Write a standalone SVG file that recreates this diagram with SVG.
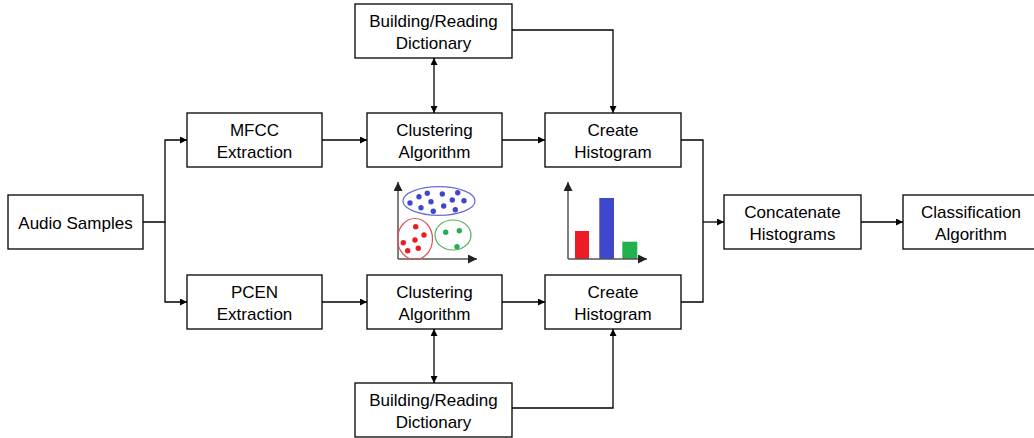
<svg xmlns="http://www.w3.org/2000/svg" width="1034" height="438" viewBox="0 0 1034 438">
<style>
.box{fill:#fff;stroke:#000;stroke-width:1.3}
.t{font-family:"Liberation Sans",Arial,sans-serif;font-size:17px;fill:#000;text-anchor:middle}
.c{fill:none;stroke:#000;stroke-width:1.3}
.ax{fill:none;stroke:#555;stroke-width:1.5}
</style>
<defs>
<marker id="ah" viewBox="0 0 10 10" refX="10" refY="5" markerWidth="7" markerHeight="7" markerUnits="userSpaceOnUse" orient="auto-start-reverse"><path d="M0,0 L10,5 L0,10 z" fill="#000"/></marker>
<marker id="ag" viewBox="0 0 10 10" refX="10" refY="5" markerWidth="9" markerHeight="9" markerUnits="userSpaceOnUse" orient="auto"><path d="M0,0 L10,5 L0,10 z" fill="#222"/></marker>
</defs>
<rect width="1034" height="438" fill="#fff"/>
<g id="connectors">
<path class="c" d="M143,222 H165 V140 H187" marker-end="url(#ah)"/>
<path class="c" d="M165,222 V302 H187" marker-end="url(#ah)"/>
<path class="c" d="M322,140 H367" marker-end="url(#ah)"/>
<path class="c" d="M322,302 H367" marker-end="url(#ah)"/>
<path class="c" d="M502,140 H545" marker-end="url(#ah)"/>
<path class="c" d="M502,302 H545" marker-end="url(#ah)"/>
<path class="c" d="M434,58 V113" marker-start="url(#ah)" marker-end="url(#ah)"/>
<path class="c" d="M434,329 V383" marker-start="url(#ah)" marker-end="url(#ah)"/>
<path class="c" d="M512,30 H613 V113" marker-end="url(#ah)"/>
<path class="c" d="M512,408 H613 V329" marker-end="url(#ah)"/>
<path class="c" d="M681,140 H703 V302 H681"/>
<path class="c" d="M703,222 H724" marker-end="url(#ah)"/>
<path class="c" d="M861,222 H903" marker-end="url(#ah)"/>
</g>
<g id="audio"><rect class="box" x="8" y="195" width="135" height="54"/><text class="t" x="75.5" y="229">Audio Samples</text></g>
<g id="mfcc"><rect class="box" x="187" y="113" width="135" height="54"/><text class="t" x="254.5" y="135.5">MFCC</text><text class="t" x="254.5" y="158">Extraction</text></g>
<g id="pcen"><rect class="box" x="187" y="275" width="135" height="54"/><text class="t" x="254.5" y="297.5">PCEN</text><text class="t" x="254.5" y="320">Extraction</text></g>
<g id="dict-top"><rect class="box" x="355" y="4" width="157" height="54"/><text class="t" x="433.5" y="26.5">Building/Reading</text><text class="t" x="433.5" y="49">Dictionary</text></g>
<g id="clust-top"><rect class="box" x="367" y="113" width="135" height="54"/><text class="t" x="434.5" y="135.5">Clustering</text><text class="t" x="434.5" y="158">Algorithm</text></g>
<g id="hist-top"><rect class="box" x="545" y="113" width="136" height="54"/><text class="t" x="613" y="135.5">Create</text><text class="t" x="613" y="158">Histogram</text></g>
<g id="clust-bot"><rect class="box" x="367" y="275" width="135" height="54"/><text class="t" x="434.5" y="297.5">Clustering</text><text class="t" x="434.5" y="320">Algorithm</text></g>
<g id="hist-bot"><rect class="box" x="545" y="275" width="136" height="54"/><text class="t" x="613" y="297.5">Create</text><text class="t" x="613" y="320">Histogram</text></g>
<g id="dict-bot"><rect class="box" x="355" y="383" width="157" height="54"/><text class="t" x="433.5" y="405.5">Building/Reading</text><text class="t" x="433.5" y="428">Dictionary</text></g>
<g id="concat"><rect class="box" x="724" y="195" width="137" height="54"/><text class="t" x="792.5" y="217.5">Concatenate</text><text class="t" x="792.5" y="240">Histograms</text></g>
<g id="classif"><rect class="box" x="903" y="195" width="136" height="54"/><text class="t" x="971" y="217.5">Classification</text><text class="t" x="971" y="240">Algorithm</text></g>
<g id="scatter">
<path class="ax" d="M398,259 V182" marker-end="url(#ag)"/>
<path class="ax" d="M398,259 H477" marker-end="url(#ag)"/>
<ellipse cx="439" cy="201" rx="36" ry="14.3" fill="none" stroke="#6a6ad8" stroke-width="1.2"/>
<ellipse cx="415" cy="239" rx="17.5" ry="20.5" fill="none" stroke="#e0505a" stroke-width="1.2"/>
<ellipse cx="453" cy="235" rx="18" ry="15" fill="none" stroke="#50b060" stroke-width="1.2"/>
<g fill="#3f48cc">
<circle cx="419" cy="196.7" r="2.7"/><circle cx="427.3" cy="193.3" r="2.7"/><circle cx="442.3" cy="194" r="2.7"/><circle cx="457.7" cy="192.7" r="2.7"/>
<circle cx="410" cy="203" r="2.7"/><circle cx="431" cy="201.7" r="2.7"/><circle cx="452.3" cy="200" r="2.7"/><circle cx="464" cy="200.7" r="2.7"/>
<circle cx="421" cy="207.7" r="2.7"/><circle cx="443.7" cy="206" r="2.7"/><circle cx="433.3" cy="211.3" r="2.7"/><circle cx="455.3" cy="209.7" r="2.7"/>
</g>
<g fill="#ed1c24">
<circle cx="415.7" cy="226.7" r="2.7"/><circle cx="424" cy="235" r="2.7"/><circle cx="415" cy="240" r="2.7"/><circle cx="403.3" cy="242.7" r="2.7"/><circle cx="418.3" cy="248.3" r="2.7"/><circle cx="407.7" cy="250.7" r="2.7"/>
</g>
<g fill="#22b14c">
<circle cx="445.7" cy="232.3" r="2.7"/><circle cx="459.3" cy="230.7" r="2.7"/><circle cx="457" cy="246.7" r="2.7"/>
</g>
</g>
<g id="histogram">
<rect x="575" y="231" width="14" height="28" fill="#ed1c24"/>
<rect x="599.3" y="198" width="14.7" height="61" fill="#3f48cc"/>
<rect x="622.3" y="241.7" width="15" height="17.3" fill="#22b14c"/>
<path class="ax" d="M568,259 V182" marker-end="url(#ag)"/>
<path class="ax" d="M568,259 H647" marker-end="url(#ag)"/>
</g>
</svg>
